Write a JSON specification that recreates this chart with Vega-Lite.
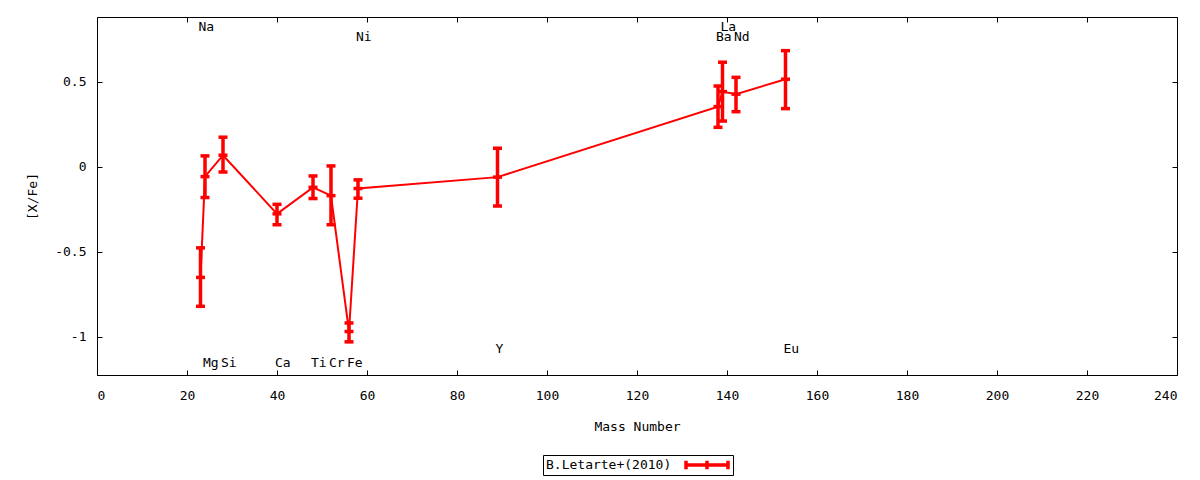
{
  "$schema": "https://vega.github.io/schema/vega-lite/v6.json",
  "width": 1080,
  "height": 358,
  "autosize": {"type": "none"},
  "padding": {"left": 97, "top": 17, "right": 23, "bottom": 105},
  "background": "white",
  "config": {
    "font": "DejaVu Sans Mono",
    "view": {"stroke": "black", "strokeWidth": 1},
    "axis": {
      "grid": false,
      "domain": false,
      "tickColor": "black",
      "tickSize": -5,
      "labelColor": "black",
      "titleColor": "black",
      "labelFont": "DejaVu Sans Mono",
      "titleFont": "DejaVu Sans Mono",
      "labelFontSize": 13,
      "titleFontSize": 13,
      "titleFontWeight": "normal"
    },
    "legend": {
      "titleFont": "DejaVu Sans Mono",
      "titleFontSize": 13,
      "titleFontWeight": "normal",
      "titleColor": "black"
    }
  },
  "data": {
    "values": [
      {"el": "Na", "A": 23, "v": -0.65, "lo": -0.82, "hi": -0.476, "ly": 0.824, "src": "B.Letarte+(2010)"},
      {"el": "Mg", "A": 24, "v": -0.057, "lo": -0.18, "hi": 0.065, "ly": -1.153, "src": "B.Letarte+(2010)"},
      {"el": "Si", "A": 28, "v": 0.069, "lo": -0.03, "hi": 0.175, "ly": -1.153, "src": "B.Letarte+(2010)"},
      {"el": "Ca", "A": 40, "v": -0.276, "lo": -0.34, "hi": -0.22, "ly": -1.153, "src": "B.Letarte+(2010)"},
      {"el": "Ti", "A": 48, "v": -0.12, "lo": -0.186, "hi": -0.053, "ly": -1.153, "src": "B.Letarte+(2010)"},
      {"el": "Cr", "A": 52, "v": -0.169, "lo": -0.34, "hi": 0.006, "ly": -1.153, "src": "B.Letarte+(2010)"},
      {"el": "Fe", "A": 56, "v": -0.968, "lo": -1.029, "hi": -0.918, "ly": -1.153, "src": "B.Letarte+(2010)"},
      {"el": "Ni", "A": 58, "v": -0.127, "lo": -0.184, "hi": -0.076, "ly": 0.765, "src": "B.Letarte+(2010)"},
      {"el": "Y", "A": 89, "v": -0.06, "lo": -0.23, "hi": 0.11, "ly": -1.071, "src": "B.Letarte+(2010)"},
      {"el": "Ba", "A": 138, "v": 0.355, "lo": 0.233, "hi": 0.476, "ly": 0.765, "src": "B.Letarte+(2010)"},
      {"el": "La", "A": 139, "v": 0.443, "lo": 0.27, "hi": 0.616, "ly": 0.824, "src": "B.Letarte+(2010)"},
      {"el": "Nd", "A": 142, "v": 0.428, "lo": 0.325, "hi": 0.527, "ly": 0.765, "src": "B.Letarte+(2010)"},
      {"el": "Eu", "A": 153, "v": 0.516, "lo": 0.343, "hi": 0.684, "ly": -1.071, "src": "B.Letarte+(2010)"}
    ]
  },
  "resolve": {"axis": {"x": "independent", "y": "independent"}},
  "layer": [
    {
      "mark": {"type": "rule", "color": "#ff0000", "strokeWidth": 3.5, "opacity": 1},
      "encoding": {
        "x": {
          "field": "A", "type": "quantitative",
          "scale": {"domain": [0, 240], "nice": false},
          "axis": {"orient": "top", "labels": false, "title": null, "values": [0, 20, 40, 60, 80, 100, 120, 140, 160, 180, 200, 220, 240]}
        },
        "y": {
          "field": "lo", "type": "quantitative",
          "scale": {"domain": [-1.224, 0.882], "nice": false, "zero": false},
          "axis": {"orient": "right", "labels": false, "title": null, "values": [-1, -0.5, 0, 0.5]}
        },
        "y2": {"field": "hi"}
      }
    },
    {
      "transform": [{"fold": ["lo", "v", "hi"], "as": ["k", "yv"]}],
      "mark": {"type": "tick", "color": "#ff0000", "opacity": 1, "orient": "horizontal", "size": 9, "thickness": 3.5},
      "encoding": {
        "x": {"field": "A", "type": "quantitative", "axis": null},
        "y": {"field": "yv", "type": "quantitative", "axis": null}
      }
    },
    {
      "mark": {"type": "line", "strokeWidth": 2},
      "encoding": {
        "x": {
          "field": "A", "type": "quantitative",
          "axis": {"orient": "bottom", "title": "Mass Number", "titlePadding": 18, "labelPadding": 19, "values": [0, 20, 40, 60, 80, 100, 120, 140, 160, 180, 200, 220, 240]}
        },
        "y": {
          "field": "v", "type": "quantitative",
          "axis": {"orient": "left", "title": "[X/Fe]", "titlePadding": 15, "labelPadding": 16, "values": [-1, -0.5, 0, 0.5], "labelExpr": "'' + datum.value"}
        },
        "order": {"field": "A"},
        "color": {
          "field": "src", "type": "nominal",
          "scale": {"range": ["#ff0000"]},
          "legend": {
            "title": "B.Letarte+(2010)",
            "titleOrient": "left",
            "titleAnchor": "middle",
            "titleBaseline": "middle",
            "titlePadding": 12,
            "labelExpr": "''",
            "labelFontSize": 0,
            "labelOffset": 0,
            "orient": "none",
            "legendX": 446,
            "legendY": 438,
            "padding": 3,
            "strokeColor": "black",
            "symbolType": "M-1,0H1M-1,-0.2V0.2M1,-0.2V0.2M0,-0.2V0.2",
            "symbolSize": 1764,
            "symbolStrokeWidth": 3.5,
            "symbolOpacity": 1,
            "clipHeight": 14
          }
        }
      }
    },
    {
      "mark": {"type": "text", "align": "left", "baseline": "middle", "dx": -2, "fontSize": 13, "color": "black", "font": "DejaVu Sans Mono"},
      "encoding": {
        "x": {"field": "A", "type": "quantitative", "axis": null},
        "y": {"field": "ly", "type": "quantitative", "axis": null},
        "text": {"field": "el"}
      }
    }
  ]
}
